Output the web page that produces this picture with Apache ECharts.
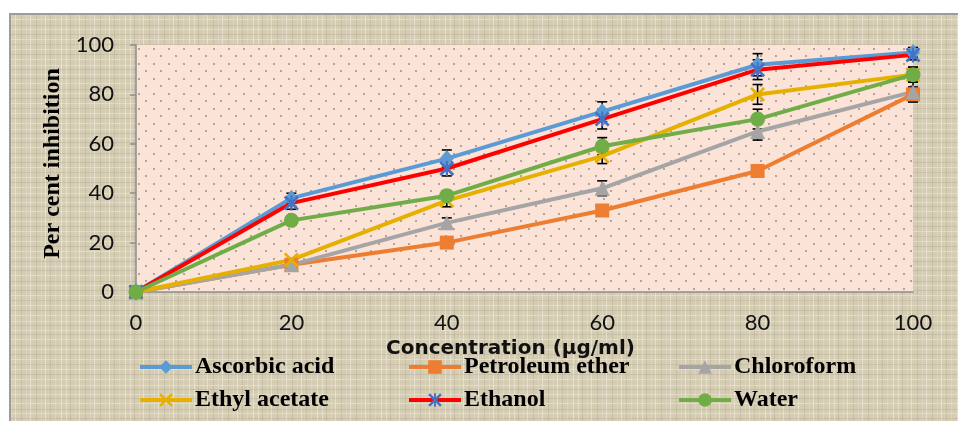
<!DOCTYPE html>
<html>
<head>
<meta charset="utf-8">
<script src="https://cdn.jsdelivr.net/npm/echarts@6/dist/echarts.min.js"></script>
<style>
html,body{margin:0;padding:0;background:#ffffff;}
#chart{width:958px;height:421px;}
</style>
</head>
<body>
<div id="chart"></div>
<script>
// ---- data ----
const concentrations = [0, 20, 40, 60, 80, 100];
const xTicks = [0, 20, 40, 60, 80, 100];
const yTicks = [0, 20, 40, 60, 80, 100];
const seriesNames = ['Ascorbic acid', 'Petroleum ether', 'Chloroform', 'Ethyl acetate', 'Ethanol', 'Water'];
const ascorbic     = [0, 38, 54, 73, 92, 97];
const petroleum    = [0, 11, 20, 33, 49, 80];
const chloroform   = [0, 11, 28, 42, 65, 81];
const ethylAcetate = [0, 13, 37, 55, 80, 88];
const ethanol      = [0, 36, 50, 70, 90, 96];
const water        = [0, 29, 39, 59, 70, 88];
const ascorbicErr     = [0, 2, 3.5, 4, 4.5, 2];
const petroleumErr    = [0, 0.5, 0.5, 0.5, 0.5, 3];
const chloroformErr   = [0, 0.5, 2, 3, 3.5, 4];
const ethylAcetateErr = [0, 0.5, 2.5, 3, 4, 3];
const ethanolErr      = [0, 2.5, 3, 4, 4, 2];
const waterErr        = [0, 0.5, 2, 3.5, 4, 3];

// ---- textures (style only) ----
function linenPattern() {
  const c = document.createElement('canvas');
  c.width = 64; c.height = 64;
  const g = c.getContext('2d');
  g.fillStyle = '#d5ccb4';
  g.fillRect(0, 0, 64, 64);
  const vx = [2, 6, 11, 15, 21, 26, 30, 36, 41, 45, 50, 55, 61];
  const hy = [1, 5, 10, 14, 19, 25, 29, 34, 39, 44, 49, 54, 59];
  vx.forEach((x, i) => {
    g.fillStyle = i % 3 === 0 ? 'rgba(242,236,222,0.6)' : (i % 3 === 1 ? 'rgba(175,164,140,0.35)' : 'rgba(232,226,210,0.4)');
    g.fillRect(x, 0, 1, 64);
  });
  hy.forEach((y, i) => {
    g.fillStyle = i % 2 === 0 ? 'rgba(240,234,220,0.5)' : 'rgba(172,160,136,0.3)';
    g.fillRect(0, y, 64, 1);
  });
  return c;
}
function dotPattern() {
  const c = document.createElement('canvas');
  c.width = 15; c.height = 15;
  const g = c.getContext('2d');
  g.fillStyle = '#fbe3d8';
  g.fillRect(0, 0, 15, 15);
  g.fillStyle = '#b4a29c';
  g.fillRect(3, 3, 2, 2);
  g.fillRect(10, 10, 2, 2);
  return c;
}

const xSym = 'path://M0,1.3 L1.3,0 L5,3.7 L8.7,0 L10,1.3 L6.3,5 L10,8.7 L8.7,10 L5,6.3 L1.3,10 L0,8.7 L3.7,5 Z';
const starSym = 'path://M0,1.3 L1.3,0 L5,3.7 L8.7,0 L10,1.3 L6.3,5 L10,8.7 L8.7,10 L5,6.3 L1.3,10 L0,8.7 L3.7,5 Z M4.3,0 L5.7,0 L5.7,10 L4.3,10 Z';

const defs = [
  {name: seriesNames[0], values: ascorbic,     err: ascorbicErr,     color: '#5b9bd5', mcolor: '#5b9bd5', symbol: 'diamond',  size: [14, 17]},
  {name: seriesNames[1], values: petroleum,    err: petroleumErr,    color: '#ed7d31', mcolor: '#ed7d31', symbol: 'rect',     size: 14},
  {name: seriesNames[2], values: chloroform,   err: chloroformErr,   color: '#a5a5a5', mcolor: '#a5a5a5', symbol: 'triangle', size: 15},
  {name: seriesNames[3], values: ethylAcetate, err: ethylAcetateErr, color: '#e6b000', mcolor: '#e6b000', symbol: xSym,       size: 15},
  {name: seriesNames[4], values: ethanol,      err: ethanolErr,      color: '#ff0000', mcolor: '#4472c4', symbol: starSym,    size: 15},
  {name: seriesNames[5], values: water,        err: waterErr,        color: '#70ad47', mcolor: '#70ad47', symbol: 'circle',   size: 15}
];

const series = [];
defs.forEach(d => {
  series.push({
    type: 'custom',
    name: d.name + ' error',
    data: concentrations.map((x, i) => [x, d.values[i] - d.err[i], d.values[i] + d.err[i]]).filter(p => p[2] > p[1]),
    renderItem: function (params, api) {
      const lo = api.coord([api.value(0), api.value(1)]);
      const hi = api.coord([api.value(0), api.value(2)]);
      const hw = 5;
      const st = {stroke: '#000', lineWidth: 1.6};
      return {
        type: 'group',
        children: [
          {type: 'line', shape: {x1: lo[0], y1: lo[1], x2: hi[0], y2: hi[1]}, style: st},
          {type: 'line', shape: {x1: lo[0] - hw, y1: lo[1], x2: lo[0] + hw, y2: lo[1]}, style: st},
          {type: 'line', shape: {x1: hi[0] - hw, y1: hi[1], x2: hi[0] + hw, y2: hi[1]}, style: st}
        ]
      };
    },
    silent: true,
    z: 2
  });
});
defs.forEach(d => {
  series.push({
    name: d.name,
    type: 'line',
    data: concentrations.map((x, i) => [x, d.values[i]]),
    symbol: d.symbol,
    symbolSize: d.size,
    showAllSymbol: true,
    lineStyle: {color: d.color, width: 4},
    itemStyle: {color: d.mcolor, borderWidth: 0},
    emphasis: {disabled: true},
    z: 3
  });
});

const legendPos = [
  {left: 138, top: 355}, {left: 407, top: 355}, {left: 677, top: 355},
  {left: 138, top: 388}, {left: 407, top: 388}, {left: 677, top: 388}
];
const legends = defs.map((d, i) => ({
  data: [d.name],
  left: legendPos[i].left,
  top: legendPos[i].top,
  padding: 0,
  itemWidth: 52,
  itemHeight: 17,
  itemGap: 0,
  selectedMode: false,
  lineStyle: {width: 4},
  textStyle: {fontFamily: 'Liberation Serif', fontWeight: 'bold', fontSize: 24, color: '#000', padding: [0, 0, 0, -2]}
}));

const chart = echarts.init(document.getElementById('chart'), null, {renderer: 'canvas'});
chart.setOption({
  animation: false,
  backgroundColor: 'transparent',
  graphic: [{
    type: 'rect',
    z: -10,
    shape: {x: 10, y: 14, width: 960, height: 420},
    style: {fill: {image: linenPattern(), repeat: 'repeat'}, stroke: '#9c9c9c', lineWidth: 2},
    silent: true
  }],
  grid: {
    left: 136, top: 45, right: 45, bottom: 129,
    show: true,
    backgroundColor: {image: dotPattern(), repeat: 'repeat'},
    borderWidth: 0
  },
  legend: legends,
  xAxis: {
    type: 'value',
    min: xTicks[0], max: xTicks[xTicks.length - 1], interval: 20,
    name: 'Concentration (µg/ml)',
    nameLocation: 'middle',
    nameGap: 42,
    nameTextStyle: {fontFamily: 'DejaVu Sans', fontWeight: 'bold', fontSize: 20, color: '#111', padding: [0, 28, 0, 0]},
    axisLine: {show: true, lineStyle: {color: '#8c8c8c', width: 1.5}},
    axisTick: {show: false},
    splitLine: {show: false},
    axisLabel: {margin: 20, fontFamily: 'Lato', fontSize: 22, color: '#111',
      formatter: v => xTicks.indexOf(v) >= 0 ? String(v) : ''}
  },
  yAxis: {
    type: 'value',
    min: yTicks[0], max: yTicks[yTicks.length - 1], interval: 20,
    name: 'Per cent inhibition',
    nameLocation: 'middle',
    nameGap: 70,
    nameTextStyle: {fontFamily: 'Liberation Serif', fontWeight: 'bold', fontSize: 24, color: '#000', padding: [0, 0, 0, 10]},
    axisLine: {show: true, lineStyle: {color: '#8c8c8c', width: 1.5}},
    axisTick: {show: true, inside: false, length: 6, lineStyle: {color: '#8c8c8c', width: 1.5}},
    splitLine: {show: false},
    axisLabel: {margin: 22, fontFamily: 'Lato', fontSize: 22, color: '#111',
      formatter: v => yTicks.indexOf(v) >= 0 ? String(v) : ''}
  },
  series: series
});
</script>
</body>
</html>
